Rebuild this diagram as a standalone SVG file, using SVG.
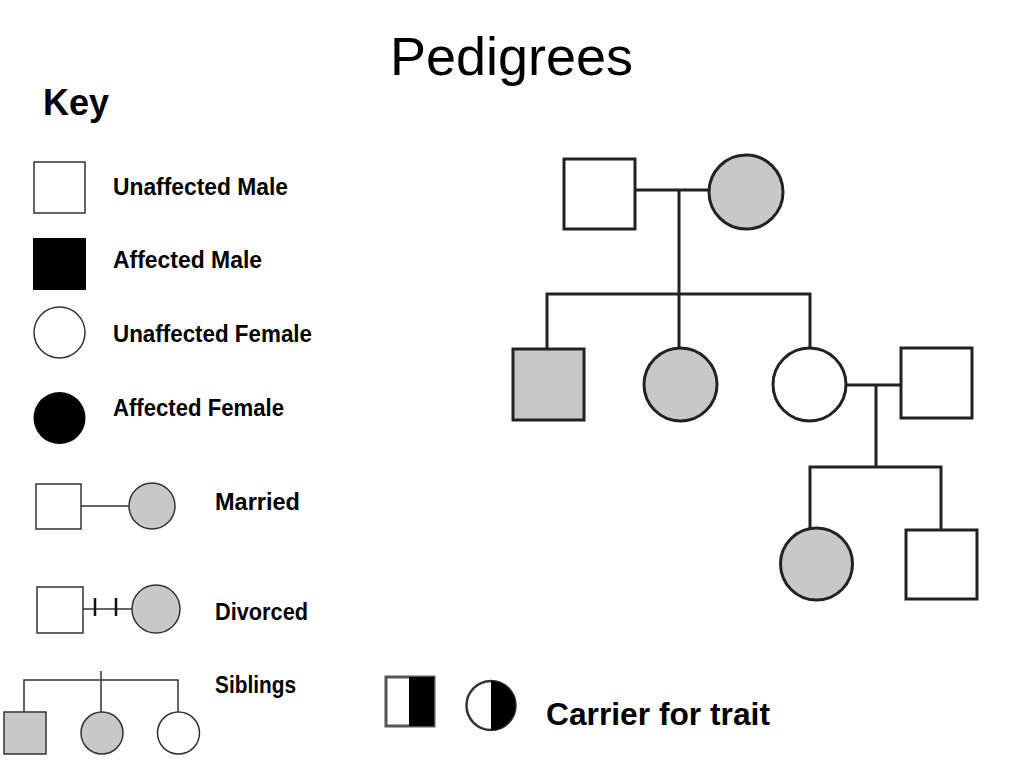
<svg xmlns="http://www.w3.org/2000/svg" width="1024" height="768" viewBox="0 0 1024 768">
<style>
.t{font-family:"Liberation Sans",Arial,sans-serif;font-weight:bold;fill:#000}
.k{stroke:#333;stroke-width:1.5}
.p{stroke:#222;stroke-width:3;fill:none}
.ps{stroke:#222;stroke-width:3}
.w{fill:#fff}
.g{fill:#c8c8c8}
.b{fill:#000}
</style>
<rect width="1024" height="768" fill="#fff"/>
<text x="390" y="75" font-family="Liberation Sans,Arial,sans-serif" font-size="54" textLength="243" lengthAdjust="spacingAndGlyphs">Pedigrees</text>
<text class="t" x="43" y="115" font-size="36">Key</text>

<g id="key-unaffected-male"><rect class="k w" x="34" y="162" width="51" height="51"/><text class="t" x="113" y="195" font-size="23" textLength="175" lengthAdjust="spacingAndGlyphs">Unaffected Male</text></g>
<g id="key-affected-male"><rect class="b" x="33" y="238" width="53" height="52"/><text class="t" x="113" y="268" font-size="23" textLength="149" lengthAdjust="spacingAndGlyphs">Affected Male</text></g>
<g id="key-unaffected-female"><circle class="k w" cx="59.5" cy="332.5" r="25.5"/><text class="t" x="113" y="342" font-size="23" textLength="199" lengthAdjust="spacingAndGlyphs">Unaffected Female</text></g>
<g id="key-affected-female"><circle class="b" cx="59.5" cy="418" r="26"/><text class="t" x="113" y="416" font-size="23" textLength="171" lengthAdjust="spacingAndGlyphs">Affected Female</text></g>

<g id="key-married">
<line class="k" x1="81" y1="506" x2="129" y2="506"/>
<rect class="k w" x="36" y="484" width="45" height="45"/>
<circle class="k g" cx="152" cy="506" r="23"/>
<text class="t" x="215" y="510" font-size="23" textLength="85" lengthAdjust="spacingAndGlyphs">Married</text>
</g>
<g id="key-divorced">
<line class="k" x1="83" y1="609" x2="132" y2="609"/>
<line x1="95" y1="598" x2="95" y2="616" stroke="#111" stroke-width="2.5"/>
<line x1="116" y1="598" x2="116" y2="616" stroke="#111" stroke-width="2.5"/>
<rect class="k w" x="37" y="587" width="46" height="46"/>
<circle class="k g" cx="156" cy="609" r="24"/>
<text class="t" x="215" y="620" font-size="23" textLength="93" lengthAdjust="spacingAndGlyphs">Divorced</text>
</g>
<g id="key-siblings">
<path class="k" fill="none" d="M24 712V680H178V712M101 671V712"/>
<rect class="k g" x="4" y="712" width="42" height="42"/>
<circle class="k g" cx="102" cy="733" r="21"/>
<circle class="k w" cx="178.5" cy="733" r="21"/>
<text class="t" x="215" y="693" font-size="23" textLength="81" lengthAdjust="spacingAndGlyphs">Siblings</text>
</g>

<g id="key-carrier">
<rect x="386" y="677" width="48" height="49" fill="#fff" stroke="#555" stroke-width="3"/>
<rect class="b" x="409" y="677" width="25" height="49"/>
<circle cx="491" cy="705.5" r="24.5" fill="#fff" stroke="#333" stroke-width="2.5"/>
<path class="b" d="M491 681A24.5 24.5 0 0 1 491 730Z"/>
<text class="t" x="546" y="725" font-size="31" textLength="224" lengthAdjust="spacingAndGlyphs" fill="#111">Carrier for trait</text>
</g>

<g id="connectors">
<line class="p" x1="635" y1="190" x2="709" y2="190"/>
<line class="p" x1="679" y1="190" x2="679" y2="347"/>
<path class="p" d="M547 350V294H810V347"/>
<line class="p" x1="846" y1="385" x2="901" y2="385"/>
<line class="p" x1="876" y1="385" x2="876" y2="467"/>
<path class="p" d="M810 528V467H941V530"/>
</g>

<g id="gen1-father"><rect class="ps w" x="564" y="159" width="71" height="70"/></g>
<g id="gen1-mother"><circle class="ps g" cx="746" cy="192" r="37"/></g>
<g id="gen2-son"><rect class="ps g" x="513" y="349" width="71" height="71"/></g>
<g id="gen2-daughter1"><circle class="ps g" cx="680.5" cy="384.5" r="36.5"/></g>
<g id="gen2-daughter2"><circle class="ps w" cx="809.5" cy="384.5" r="36.5"/></g>
<g id="gen2-husband"><rect class="ps w" x="901" y="348" width="71" height="70"/></g>
<g id="gen3-daughter"><circle class="ps g" cx="816.5" cy="564" r="36"/></g>
<g id="gen3-son"><rect class="ps w" x="906" y="530" width="71" height="69"/></g>
</svg>
